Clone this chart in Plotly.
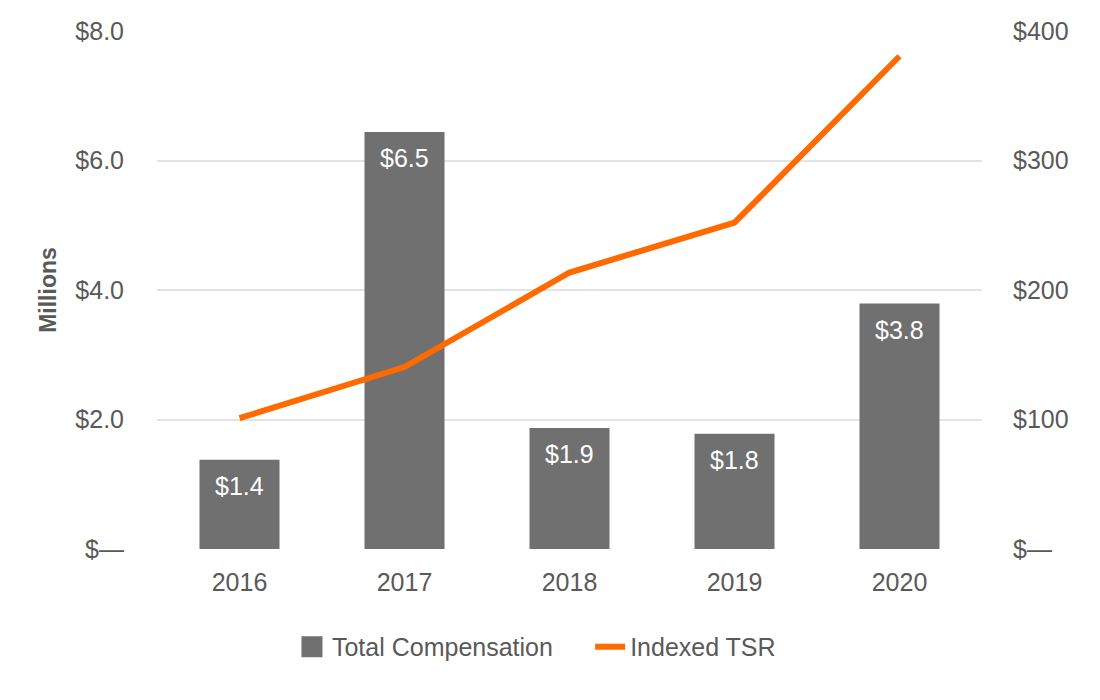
import plotly.graph_objects as go

years = ["2016", "2017", "2018", "2019", "2020"]
total_comp = [1.38, 6.44, 1.87, 1.78, 3.79]
comp_labels = ["$1.4", "$6.5", "$1.9", "$1.8", "$3.8"]
indexed_tsr = [101, 140.5, 213.5, 252, 380.5]

left_tickvals = [0, 2, 4, 6, 8]
left_ticktext = ["$—", "$2.0", "$4.0", "$6.0", "$8.0"]
right_tickvals = [0, 100, 200, 300, 400]
right_ticktext = ["$—", "$100", "$200", "$300", "$400"]

GRAY = "#707070"
ORANGE = "#FF6A00"
TEXT = "#595959"
FONT = "Liberation Sans, Arial, sans-serif"
FS = 25

fig = go.Figure()
fig.add_trace(go.Bar(
    x=years, y=total_comp, name="Total Compensation", showlegend=False,
    marker=dict(color=GRAY, line=dict(width=0)),
    width=0.485, yaxis="y",
))
# legend entry for the bars (bigger square swatch)
fig.add_trace(go.Scatter(
    x=[None], y=[None], name="Total Compensation", mode="markers",
    marker=dict(symbol="square", size=16, color=GRAY, line=dict(color=GRAY, width=5)),
    legend="legend",
))
fig.add_trace(go.Scatter(
    x=years, y=indexed_tsr, name="Indexed TSR", mode="lines",
    line=dict(color=ORANGE, width=6), yaxis="y2", legend="legend2",
))

for i, (v, lab) in enumerate(zip(total_comp, comp_labels)):
    fig.add_annotation(x=i, y=v, xref="x", yref="y", text=lab, showarrow=False,
                       yshift=-26, font=dict(color="white", size=FS, family=FONT))

fig.update_layout(
    width=1100, height=700,
    paper_bgcolor="white", plot_bgcolor="white",
    margin=dict(l=149, r=126, t=23, b=159, autoexpand=False),
    font=dict(family=FONT, color=TEXT, size=FS),
    showlegend=True,
    legend=dict(x=0.1636, xanchor="left", y=-0.189, yanchor="middle",
                font=dict(size=FS, color=TEXT), bgcolor="rgba(0,0,0,0)"),
    legend2=dict(x=0.525, xanchor="left", y=-0.189, yanchor="middle",
                 font=dict(size=FS, color=TEXT), bgcolor="rgba(0,0,0,0)"),
    xaxis=dict(type="category", range=[-0.5, len(years) - 0.5], showgrid=False, showline=False,
               ticks="outside", ticklen=11, tickcolor="rgba(0,0,0,0)",
               tickfont=dict(size=FS, color=TEXT)),
    yaxis=dict(range=[0, 8], tickvals=left_tickvals, ticktext=left_ticktext,
               showgrid=True, gridcolor="#e3e3e3", gridwidth=1.5, zeroline=False,
               showline=False, ticks="outside", ticklen=27, tickcolor="rgba(0,0,0,0)",
               tickfont=dict(size=FS, color=TEXT),
               title=dict(text="<b>Millions</b>", font=dict(size=23, color=TEXT), standoff=12)),
    yaxis2=dict(range=[0, 400], tickvals=right_tickvals, ticktext=right_ticktext,
                overlaying="y", side="right", showgrid=False, zeroline=False,
                showline=False, ticks="outside", ticklen=25, tickcolor="rgba(0,0,0,0)",
                tickfont=dict(size=FS, color=TEXT)),
)

fig.write_html("out.html")
